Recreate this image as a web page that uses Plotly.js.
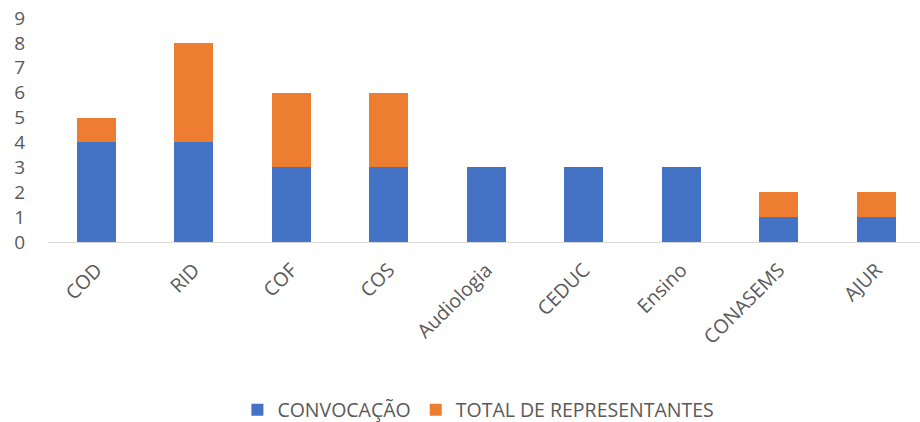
<!DOCTYPE html>
<html>
<head>
<meta charset="utf-8">
<script src="https://cdn.plot.ly/plotly-3.0.1.min.js"></script>
<style>
  body { margin: 0; background: #fff; }
  #plot { width: 920px; height: 422px; }
</style>
</head>
<body>
<div id="plot"></div>
<script>
const categories = ["COD", "RID", "COF", "COS", "Audiologia", "CEDUC", "Ensino", "CONASEMS", "AJUR"];
const convocacao = [4, 4, 3, 3, 3, 3, 3, 1, 1];
const totalRepresentantes = [1, 4, 3, 3, 0, 0, 0, 1, 1];
const yTicks = [0, 1, 2, 3, 4, 5, 6, 7, 8, 9];

const fontFamily = "'Open Sans', 'Noto Sans', sans-serif";
const grey = "#595959";

const trace1 = {
    x: categories,
    y: convocacao,
    type: "bar",
    name: "CONVOCAÇÃO",
    marker: { color: "#4472C4" },
    hoverinfo: "y",
  },
  trace2 = {
    x: categories,
    y: totalRepresentantes,
    type: "bar",
    name: "TOTAL DE REPRESENTANTES",
    marker: { color: "#ED7D31" },
    hoverinfo: "y",
  };

const layout = {
  width: 920,
  height: 422,
  barmode: "stack",
  bargap: 0.6,
  margin: { l: 48, r: 0, t: 18, b: 180 },
  paper_bgcolor: "#fff",
  plot_bgcolor: "#fff",
  font: { family: fontFamily, color: grey, size: 17 },
  xaxis: {
    range: [-0.497, 8.447],
    tickangle: -45,
    showgrid: false,
    showline: true,
    linecolor: "#D9D9D9",
    linewidth: 1,
    ticks: "",
    ticklabelstandoff: 8,
    tickfont: { size: 19.5, color: grey },
  },
  yaxis: {
    range: [0, 9],
    tickvals: yTicks,
    showgrid: false,
    zeroline: false,
    showline: false,
    ticks: "",
    ticklabelstandoff: 22,
    tickfont: { size: 19, color: grey },
  },
  legend: {
    orientation: "h",
    x: 0.52,
    xanchor: "center",
    xref: "container",
    y: 0.028,
    yanchor: "middle",
    yref: "container",
    font: { size: 19.5, color: grey },
    traceorder: "normal",
    itemwidth: 30,
  },
  showlegend: true,
};

Plotly.newPlot("plot", [trace1, trace2], layout, { displayModeBar: false, staticPlot: true });
</script>
</body>
</html>
